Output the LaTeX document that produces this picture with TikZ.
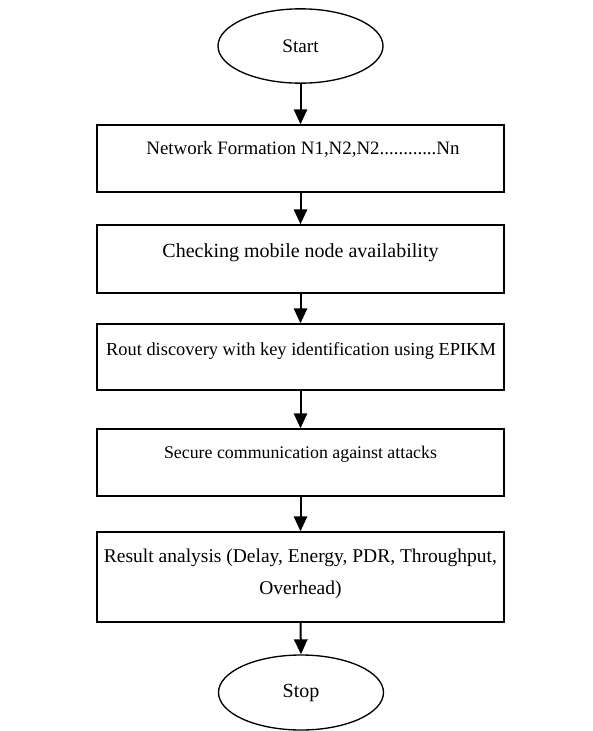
\documentclass[tikz,border=0pt]{standalone}
\usepackage{fontspec}
\setmainfont{Liberation Serif}
\usetikzlibrary{arrows.meta,shapes.geometric}
\begin{document}
\begin{tikzpicture}[x=0.6pt,y=-0.6pt,
  every node/.style={font=\fontsize{12}{20.7}\selectfont},
  box/.style={draw,line width=0.9pt,rectangle,inner sep=0pt,minimum width=244.2pt},
  term/.style={draw,line width=0.8pt,ellipse,inner sep=0pt,minimum width=99pt,minimum height=44.6pt},
  txt/.style={anchor=base,inner sep=0pt,align=center},
  flow/.style={line width=1.2pt,-{Triangle[width=8pt,length=9pt]}}]
\useasboundingbox (0,0) rectangle (592,731);
\node[term,font=\fontsize{11.5}{14}\selectfont] (start) at (300.5,46) {Start};
\node[box,minimum height=40.2pt] (b1) at (300.5,158.5) {};
\node[txt,font=\fontsize{11.35}{14}\selectfont] (t1) at (303,154.5) {Network Formation N1,N2,N2............Nn};
\node[box,minimum height=40.8pt] (b2) at (300.5,259) {};
\node[txt] (t2) at (300.5,257) {Checking mobile node availability};
\node[box,minimum height=39.6pt] (b3) at (300.5,357) {};
\node[txt,font=\fontsize{11.05}{14}\selectfont] (t3) at (301,355.5) {Rout discovery with key identification using EPIKM};
\node[box,minimum height=40.2pt] (b4) at (300.5,462.5) {};
\node[txt,font=\fontsize{10.7}{14}\selectfont] (t4) at (300.5,458.5) {Secure communication against attacks};
\node[box,minimum height=54pt] (b5) at (300.5,577) {};
\node[txt,font=\fontsize{11.7}{18.8}\selectfont] (t5) at (300.5,594) {Result analysis (Delay, Energy, PDR, Throughput,\\ Overhead)};
\node[term,minimum height=45pt] (stop) at (301,692.5) {Stop};
\draw[flow] (start.south) -- (start.south |- b1.north);
\draw[flow] (b1.south) -- (b2.north);
\draw[flow] (b2.south) -- (b3.north);
\draw[flow] (b3.south) -- (b4.north);
\draw[flow] (b4.south) -- (b5.north);
\draw[flow] (b5.south) -- (stop.north);
\end{tikzpicture}
\end{document}
